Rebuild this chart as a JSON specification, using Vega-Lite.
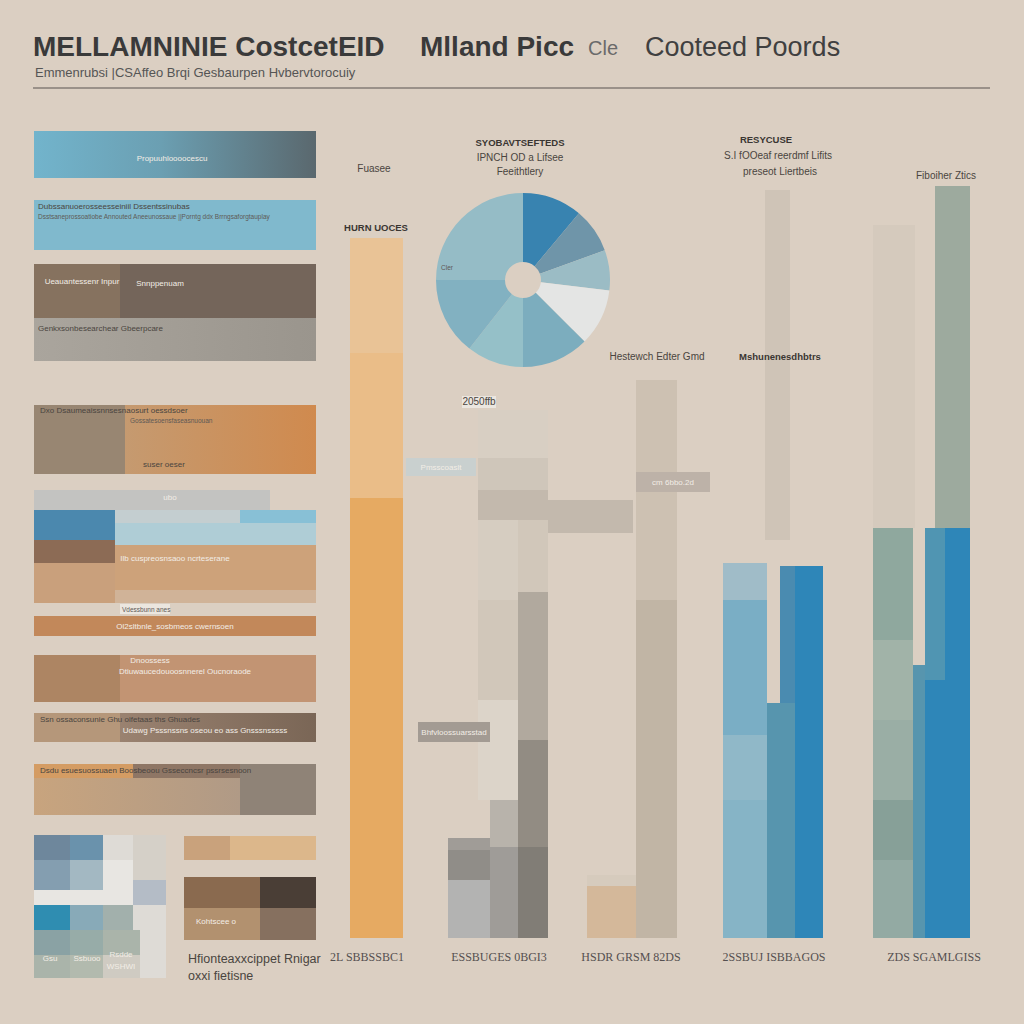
{
  "$schema": "https://vega.github.io/schema/vega-lite/v6.json",
  "width": 1024,
  "height": 1024,
  "autosize": {"type": "fit", "contains": "padding"},
  "padding": 0,
  "background": "#dbcfc2",
  "config": {"view": {"stroke": null}, "font": "Liberation Sans"},
  "datasets": {
    "blocks": [
      {"x0": 34, "x1": 316, "y0": 200, "y1": 250, "tone": "lightsky"},
      {"x0": 34, "x1": 120, "y0": 264, "y1": 318, "tone": "mocha1"},
      {"x0": 120, "x1": 316, "y0": 264, "y1": 318, "tone": "mocha2"},
      {"x0": 34, "x1": 125, "y0": 405, "y1": 474, "tone": "taupe"},
      {"x0": 34, "x1": 270, "y0": 490, "y1": 510, "tone": "silver"},
      {"x0": 34, "x1": 115, "y0": 510, "y1": 540, "tone": "steel"},
      {"x0": 115, "x1": 240, "y0": 510, "y1": 523, "tone": "pale"},
      {"x0": 240, "x1": 316, "y0": 510, "y1": 523, "tone": "ice"},
      {"x0": 115, "x1": 316, "y0": 523, "y1": 545, "tone": "mist"},
      {"x0": 34, "x1": 115, "y0": 540, "y1": 563, "tone": "cocoa"},
      {"x0": 115, "x1": 316, "y0": 545, "y1": 590, "tone": "sand"},
      {"x0": 34, "x1": 115, "y0": 563, "y1": 603, "tone": "tan"},
      {"x0": 115, "x1": 316, "y0": 590, "y1": 603, "tone": "biscuit"},
      {"x0": 34, "x1": 316, "y0": 616, "y1": 636, "tone": "rust"},
      {"x0": 34, "x1": 120, "y0": 655, "y1": 702, "tone": "caramel"},
      {"x0": 120, "x1": 316, "y0": 655, "y1": 702, "tone": "toffee"},
      {"x0": 34, "x1": 120, "y0": 713, "y1": 742, "tone": "khaki"},
      {"x0": 34, "x1": 133, "y0": 764, "y1": 778, "tone": "apricot"},
      {"x0": 133, "x1": 240, "y0": 764, "y1": 778, "tone": "walnut"},
      {"x0": 240, "x1": 316, "y0": 764, "y1": 815, "tone": "stone"},
      {"x0": 34, "x1": 70, "y0": 835, "y1": 860, "tone": "g1"},
      {"x0": 70, "x1": 103, "y0": 835, "y1": 860, "tone": "g2"},
      {"x0": 103, "x1": 133, "y0": 835, "y1": 860, "tone": "g3"},
      {"x0": 133, "x1": 166, "y0": 835, "y1": 880, "tone": "g4"},
      {"x0": 34, "x1": 70, "y0": 860, "y1": 890, "tone": "g5"},
      {"x0": 70, "x1": 103, "y0": 860, "y1": 890, "tone": "g6"},
      {"x0": 103, "x1": 133, "y0": 860, "y1": 905, "tone": "g7"},
      {"x0": 34, "x1": 103, "y0": 890, "y1": 905, "tone": "g7"},
      {"x0": 133, "x1": 166, "y0": 880, "y1": 905, "tone": "g8"},
      {"x0": 34, "x1": 70, "y0": 905, "y1": 930, "tone": "g9"},
      {"x0": 70, "x1": 103, "y0": 905, "y1": 930, "tone": "g10"},
      {"x0": 103, "x1": 133, "y0": 905, "y1": 930, "tone": "g11"},
      {"x0": 133, "x1": 166, "y0": 905, "y1": 930, "tone": "g3"},
      {"x0": 34, "x1": 70, "y0": 930, "y1": 955, "tone": "g12"},
      {"x0": 70, "x1": 103, "y0": 930, "y1": 955, "tone": "g13"},
      {"x0": 103, "x1": 140, "y0": 930, "y1": 955, "tone": "g14"},
      {"x0": 140, "x1": 166, "y0": 930, "y1": 978, "tone": "g3"},
      {"x0": 34, "x1": 70, "y0": 955, "y1": 978, "tone": "g14"},
      {"x0": 70, "x1": 103, "y0": 955, "y1": 978, "tone": "g15"},
      {"x0": 103, "x1": 140, "y0": 955, "y1": 978, "tone": "g16"},
      {"x0": 184, "x1": 230, "y0": 836, "y1": 860, "tone": "peach1"},
      {"x0": 230, "x1": 316, "y0": 836, "y1": 860, "tone": "peach2"},
      {"x0": 184, "x1": 260, "y0": 877, "y1": 908, "tone": "brown1"},
      {"x0": 260, "x1": 316, "y0": 877, "y1": 908, "tone": "brown2"},
      {"x0": 184, "x1": 260, "y0": 908, "y1": 940, "tone": "brown3"},
      {"x0": 260, "x1": 316, "y0": 908, "y1": 940, "tone": "brown4"},
      {"x0": 350, "x1": 403, "y0": 238, "y1": 353, "tone": "o1"},
      {"x0": 350, "x1": 403, "y0": 353, "y1": 498, "tone": "o2"},
      {"x0": 350, "x1": 403, "y0": 498, "y1": 938, "tone": "o3"},
      {"x0": 478, "x1": 548, "y0": 410, "y1": 458, "tone": "m0"},
      {"x0": 478, "x1": 548, "y0": 458, "y1": 490, "tone": "m1"},
      {"x0": 478, "x1": 548, "y0": 490, "y1": 520, "tone": "m2"},
      {"x0": 548, "x1": 633, "y0": 500, "y1": 533, "tone": "m2"},
      {"x0": 518, "x1": 548, "y0": 520, "y1": 592, "tone": "m3"},
      {"x0": 518, "x1": 548, "y0": 592, "y1": 740, "tone": "m4"},
      {"x0": 518, "x1": 548, "y0": 740, "y1": 847, "tone": "m5"},
      {"x0": 518, "x1": 548, "y0": 847, "y1": 938, "tone": "m6"},
      {"x0": 478, "x1": 518, "y0": 520, "y1": 600, "tone": "m7"},
      {"x0": 478, "x1": 518, "y0": 600, "y1": 700, "tone": "m3"},
      {"x0": 478, "x1": 518, "y0": 700, "y1": 800, "tone": "m8"},
      {"x0": 490, "x1": 518, "y0": 800, "y1": 847, "tone": "m9"},
      {"x0": 490, "x1": 518, "y0": 847, "y1": 938, "tone": "m10"},
      {"x0": 448, "x1": 490, "y0": 838, "y1": 850, "tone": "m11"},
      {"x0": 448, "x1": 490, "y0": 850, "y1": 880, "tone": "m12"},
      {"x0": 448, "x1": 490, "y0": 880, "y1": 938, "tone": "m13"},
      {"x0": 636, "x1": 677, "y0": 380, "y1": 600, "tone": "m15"},
      {"x0": 636, "x1": 677, "y0": 600, "y1": 938, "tone": "m16"},
      {"x0": 587, "x1": 636, "y0": 875, "y1": 886, "tone": "m18"},
      {"x0": 587, "x1": 636, "y0": 886, "y1": 938, "tone": "m19"},
      {"x0": 406, "x1": 476, "y0": 458, "y1": 476, "tone": "boxblue"},
      {"x0": 462, "x1": 496, "y0": 396, "y1": 408, "tone": "boxwhite"},
      {"x0": 120, "x1": 170, "y0": 604, "y1": 614, "tone": "boxwhite"},
      {"x0": 418, "x1": 490, "y0": 722, "y1": 742, "tone": "m14"},
      {"x0": 636, "x1": 710, "y0": 472, "y1": 492, "tone": "m17"},
      {"x0": 765, "x1": 790, "y0": 190, "y1": 540, "tone": "r0"},
      {"x0": 873, "x1": 915, "y0": 225, "y1": 528, "tone": "r1"},
      {"x0": 935, "x1": 970, "y0": 186, "y1": 528, "tone": "sage"},
      {"x0": 723, "x1": 767, "y0": 563, "y1": 600, "tone": "b1"},
      {"x0": 723, "x1": 767, "y0": 600, "y1": 735, "tone": "b2"},
      {"x0": 723, "x1": 767, "y0": 735, "y1": 800, "tone": "b3"},
      {"x0": 723, "x1": 767, "y0": 800, "y1": 938, "tone": "b4"},
      {"x0": 767, "x1": 795, "y0": 703, "y1": 938, "tone": "b5"},
      {"x0": 780, "x1": 795, "y0": 566, "y1": 703, "tone": "b6"},
      {"x0": 795, "x1": 823, "y0": 566, "y1": 938, "tone": "b7"},
      {"x0": 873, "x1": 913, "y0": 528, "y1": 640, "tone": "s1"},
      {"x0": 873, "x1": 913, "y0": 640, "y1": 720, "tone": "s2"},
      {"x0": 873, "x1": 913, "y0": 720, "y1": 800, "tone": "s3"},
      {"x0": 873, "x1": 913, "y0": 800, "y1": 860, "tone": "s4"},
      {"x0": 873, "x1": 913, "y0": 860, "y1": 938, "tone": "s5"},
      {"x0": 913, "x1": 925, "y0": 665, "y1": 938, "tone": "b5"},
      {"x0": 925, "x1": 945, "y0": 528, "y1": 680, "tone": "b8"},
      {"x0": 945, "x1": 970, "y0": 528, "y1": 680, "tone": "b7"},
      {"x0": 925, "x1": 970, "y0": 680, "y1": 938, "tone": "b7"}
    ],
    "gradA1": [{"x0": 34, "x1": 316, "y0": 131, "y1": 178}],
    "gradA3": [{"x0": 34, "x1": 316, "y0": 318, "y1": 361}],
    "gradA4": [{"x0": 125, "x1": 316, "y0": 405, "y1": 474}],
    "gradA8": [{"x0": 120, "x1": 316, "y0": 713, "y1": 742}],
    "gradA9": [{"x0": 34, "x1": 240, "y0": 778, "y1": 815}],
    "pie": [
      {"cx": 523, "cy": 280, "share": 40, "tone": "p1", "order": 1},
      {"cx": 523, "cy": 280, "share": 30, "tone": "p2", "order": 2},
      {"cx": 523, "cy": 280, "share": 27, "tone": "p3", "order": 3},
      {"cx": 523, "cy": 280, "share": 38, "tone": "p4", "order": 4},
      {"cx": 523, "cy": 280, "share": 45, "tone": "p5", "order": 5},
      {"cx": 523, "cy": 280, "share": 38, "tone": "p6", "order": 6},
      {"cx": 523, "cy": 280, "share": 52, "tone": "p7", "order": 7},
      {"cx": 523, "cy": 280, "share": 90, "tone": "p8", "order": 8}
    ],
    "rule": [{"x0": 33, "x1": 990, "y": 88}],
    "titleBold": [
      {"x": 33, "y": 56, "text": "MELLAMNINIE CostcetEID"},
      {"x": 420, "y": 56, "text": "Mlland Picc"}
    ],
    "titleRegular": [
      {"x": 645, "y": 56, "text": "Cooteed Poords"}
    ],
    "titleSmall": [
      {"x": 588, "y": 55, "text": "Cle"}
    ],
    "subtitle": [
      {"x": 35, "y": 77, "text": "Emmenrubsi |CSAffeo Brqi Gesbaurpen Hvbervtorocuiy"}
    ],
    "notesLeft": [
      {"x": 38, "y": 209, "text": "Dubssanuoerosseesseiniil  Dssentssinubas"},
      {"x": 38, "y": 331, "text": "Genkxsonbesearchear Gbeerpcare"},
      {"x": 40, "y": 413, "text": "Dxo Dsaumeaissnnsesnaosurt oessdsoer"},
      {"x": 143, "y": 467, "text": "suser oeser"},
      {"x": 40, "y": 722, "text": "Ssn ossaconsunie Ghu oifetaas ths Ghuades"},
      {"x": 40, "y": 773, "text": "Dsdu esuesuossuaen Boosbeoou Gsseccncsr pssrsesnoon"}
    ],
    "notesTiny": [
      {"x": 38, "y": 219, "text": "Dsstsaneprossoatiobe Annouted Aneeunossaue ||Porntg ddx Brrngsaforgtauplay"},
      {"x": 130, "y": 423, "text": "Gossatesoensfaseasnuouan"},
      {"x": 441, "y": 270, "text": "Cler"},
      {"x": 122, "y": 612, "text": "Vdessbunn anes"}
    ],
    "notesWhite": [
      {"x": 172, "y": 161, "text": "Propuuhloooocescu"},
      {"x": 82, "y": 284, "text": "Ueauantessenr Inpur"},
      {"x": 160, "y": 286, "text": "Snnppenuam"},
      {"x": 170, "y": 500, "text": "ubo"},
      {"x": 175, "y": 561, "text": "Ilb cuspreosnsaoo ncrteserane"},
      {"x": 175, "y": 629, "text": "Ol2sltbnle_sosbmeos cwernsoen"},
      {"x": 150, "y": 663, "text": "Dnoossess"},
      {"x": 185, "y": 674, "text": "Dtiuwaucedouoosnnerel Oucnoraode"},
      {"x": 205, "y": 733, "text": "Udawg Psssnssns oseou eo ass Gnsssnsssss"},
      {"x": 216, "y": 924, "text": "Kohtscee o"},
      {"x": 50, "y": 961, "text": "Gsu"},
      {"x": 87, "y": 961, "text": "Ssbuoo"},
      {"x": 121, "y": 957, "text": "Rsdde"},
      {"x": 121, "y": 969, "text": "WSHWI"},
      {"x": 441, "y": 470, "text": "Pmsscoaslt"},
      {"x": 454, "y": 735, "text": "Bhfvloossuarsstad"},
      {"x": 673, "y": 485, "text": "cm 6bbo.2d"}
    ],
    "notesCenter": [
      {"x": 374, "y": 172, "text": "Fuasee"},
      {"x": 520, "y": 161, "text": "IPNCH OD a Lifsee"},
      {"x": 520, "y": 175, "text": "Feeithtlery"},
      {"x": 657, "y": 360, "text": "Hestewch Edter Gmd"},
      {"x": 778, "y": 159, "text": "S.I fOOeaf reerdmf Lifits"},
      {"x": 780, "y": 175, "text": "preseot Liertbeis"},
      {"x": 946, "y": 179, "text": "Fiboiher Ztics"},
      {"x": 479, "y": 405, "text": "2050ffb"}
    ],
    "notesBoldCenter": [
      {"x": 780, "y": 360, "text": "Mshunenesdhbtrs"},
      {"x": 376, "y": 231, "text": "HURN UOCES"},
      {"x": 520, "y": 146, "text": "SYOBAVTSEFTEDS"},
      {"x": 766, "y": 143, "text": "RESYCUSE"}
    ],
    "bottomNote": [
      {"x": 188, "y": 963, "text": "Hfionteaxxcippet Rnigar"},
      {"x": 188, "y": 980, "text": "oxxi fietisne"}
    ],
    "axisLabels": [
      {"x": 367, "y": 961, "text": "2L SBBSSBC1"},
      {"x": 499, "y": 961, "text": "ESSBUGES 0BGI3"},
      {"x": 631, "y": 961, "text": "HSDR GRSM 82DS"},
      {"x": 774, "y": 961, "text": "2SSBUJ ISBBAGOS"},
      {"x": 934, "y": 961, "text": "ZDS SGAMLGISS"}
    ]
  },
  "encoding": {
    "x": {"field": "x0", "type": "quantitative", "scale": {"domain": [0, 1024], "nice": false, "zero": false}, "axis": null},
    "y": {"field": "y0", "type": "quantitative", "scale": {"domain": [0, 1024], "nice": false, "zero": false, "reverse": true}, "axis": null}
  },
  "layer": [
    {
      "data": {"name": "blocks"},
      "mark": {"type": "rect"},
      "encoding": {
        "x2": {"field": "x1"},
        "y2": {"field": "y1"},
        "color": {
          "field": "tone", "type": "nominal", "legend": null,
          "scale": {
            "domain": ["lightsky","mocha1","mocha2","taupe","silver","steel","pale","ice","mist","cocoa","sand","tan","biscuit","rust","caramel","toffee","khaki","apricot","walnut","stone","g1","g2","g3","g4","g5","g6","g7","g8","g9","g10","g11","g12","g13","g14","g15","g16","peach1","peach2","brown1","brown2","brown3","brown4","o1","o2","o3","m0","m1","m2","m3","m4","m5","m6","m7","m8","m9","m10","m11","m12","m13","m14","m15","m16","m17","m18","m19","boxblue","boxwhite","r0","r1","sage","b1","b2","b3","b4","b5","b6","b7","b8","s1","s2","s3","s4","s5","p1","p2","p3","p4","p5","p6","p7","p8"],
            "range": ["#80b9cd","#86725f","#74655a","#988672","#c3c3c1","#4b88ae","#c4ced0","#88c0d6","#afcdd6","#8c6b55","#cda27a","#c9a07c","#d0b398","#c2885a","#ad8563","#c29473","#b5977a","#d49c63","#8e7665","#8f8377","#6e879c","#6a92ac","#dedbd6","#d5d0c8","#849eb0","#a3b8c2","#e8e6e2","#b4bcc6","#2f8db1","#88aab8","#a2b0ac","#8aa2a4","#97aca8","#aab4aa","#b2baae","#cfcbc2","#c9a27c","#dcb78b","#8a6a4f","#4a3e36","#b2916f","#86705f","#e9c396","#eabd88","#e6aa62","#d8cfc3","#cfc6ba","#c3b9ad","#d1c7ba","#b1a99e","#928c83","#817d76","#d6cdc1","#dcd4c9","#b8b3ab","#9f9c98","#a09c97","#908d88","#b3b3b2","#a39b93","#cdc1b2","#c1b5a5","#bdb2a8","#d6cbbd","#d4b89a","#c9d0cf","#ebe6df","#cfc4b7","#d5cabd","#9daa9e","#a0bcc8","#7aaec5","#90b8c8","#86b4c6","#5795ae","#4a8bb0","#2e86b8","#5095b2","#8fa89e","#a1b3a8","#9aaea5","#87a098","#93aaa3","#3883b0","#6f95a9","#9bbcc5","#e4e5e4","#7cadbe","#95c0c8","#82b1c1","#95bcc6"]
          }
        }
      }
    },
    {
      "data": {"name": "gradA1"},
      "mark": {"type": "rect", "color": {"gradient": "linear", "x1": 0, "x2": 1, "y1": 0, "y2": 0, "stops": [{"offset": 0, "color": "#72b4cc"}, {"offset": 0.45, "color": "#6b9fb2"}, {"offset": 1, "color": "#5a686e"}]}},
      "encoding": {"x2": {"field": "x1"}, "y2": {"field": "y1"}}
    },
    {
      "data": {"name": "gradA3"},
      "mark": {"type": "rect", "color": {"gradient": "linear", "x1": 0, "x2": 1, "y1": 0, "y2": 0, "stops": [{"offset": 0, "color": "#aaa59d"}, {"offset": 1, "color": "#9a958d"}]}},
      "encoding": {"x2": {"field": "x1"}, "y2": {"field": "y1"}}
    },
    {
      "data": {"name": "gradA4"},
      "mark": {"type": "rect", "color": {"gradient": "linear", "x1": 0, "x2": 1, "y1": 0, "y2": 0, "stops": [{"offset": 0, "color": "#c59a70"}, {"offset": 1, "color": "#d08a4e"}]}},
      "encoding": {"x2": {"field": "x1"}, "y2": {"field": "y1"}}
    },
    {
      "data": {"name": "gradA8"},
      "mark": {"type": "rect", "color": {"gradient": "linear", "x1": 0, "x2": 1, "y1": 0, "y2": 0, "stops": [{"offset": 0, "color": "#9a8270"}, {"offset": 1, "color": "#7a6656"}]}},
      "encoding": {"x2": {"field": "x1"}, "y2": {"field": "y1"}}
    },
    {
      "data": {"name": "gradA9"},
      "mark": {"type": "rect", "color": {"gradient": "linear", "x1": 0, "x2": 1, "y1": 0, "y2": 0, "stops": [{"offset": 0, "color": "#c8a47e"}, {"offset": 1, "color": "#b09a86"}]}},
      "encoding": {"x2": {"field": "x1"}, "y2": {"field": "y1"}}
    },
    {
      "data": {"name": "pie"},
      "mark": {"type": "arc", "outerRadius": 87, "innerRadius": 18},
      "encoding": {
        "x": {"field": "cx", "type": "quantitative", "stack": null},
        "y": {"field": "cy", "type": "quantitative", "stack": null},
        "theta": {"field": "share", "type": "quantitative", "stack": "zero"},
        "order": {"field": "order", "type": "quantitative"},
        "color": {"field": "tone", "type": "nominal", "legend": null}
      }
    },
    {
      "data": {"name": "rule"},
      "mark": {"type": "rule", "color": "#5a5450", "strokeWidth": 1.2},
      "encoding": {"x2": {"field": "x1"}, "y": {"field": "y", "type": "quantitative"}}
    },
    {
      "data": {"name": "titleBold"},
      "mark": {"type": "text", "align": "left", "baseline": "alphabetic", "fontSize": 28, "fontWeight": "bold", "color": "#3a3a3a", "font": "Liberation Sans"},
      "encoding": {"x": {"field": "x", "type": "quantitative"}, "y": {"field": "y", "type": "quantitative"}, "text": {"field": "text"}}
    },
    {
      "data": {"name": "titleRegular"},
      "mark": {"type": "text", "align": "left", "baseline": "alphabetic", "fontSize": 27, "color": "#404040", "font": "Liberation Sans"},
      "encoding": {"x": {"field": "x", "type": "quantitative"}, "y": {"field": "y", "type": "quantitative"}, "text": {"field": "text"}}
    },
    {
      "data": {"name": "titleSmall"},
      "mark": {"type": "text", "align": "left", "baseline": "alphabetic", "fontSize": 20, "color": "#6a6a6a", "font": "Liberation Sans"},
      "encoding": {"x": {"field": "x", "type": "quantitative"}, "y": {"field": "y", "type": "quantitative"}, "text": {"field": "text"}}
    },
    {
      "data": {"name": "subtitle"},
      "mark": {"type": "text", "align": "left", "baseline": "alphabetic", "fontSize": 13, "color": "#555555", "font": "Liberation Sans"},
      "encoding": {"x": {"field": "x", "type": "quantitative"}, "y": {"field": "y", "type": "quantitative"}, "text": {"field": "text"}}
    },
    {
      "data": {"name": "notesLeft"},
      "mark": {"type": "text", "align": "left", "baseline": "alphabetic", "fontSize": 8, "color": "#4a4540"},
      "encoding": {"x": {"field": "x", "type": "quantitative"}, "y": {"field": "y", "type": "quantitative"}, "text": {"field": "text"}}
    },
    {
      "data": {"name": "notesTiny"},
      "mark": {"type": "text", "align": "left", "baseline": "alphabetic", "fontSize": 6.5, "color": "#5e5956"},
      "encoding": {"x": {"field": "x", "type": "quantitative"}, "y": {"field": "y", "type": "quantitative"}, "text": {"field": "text"}}
    },
    {
      "data": {"name": "notesWhite"},
      "mark": {"type": "text", "align": "center", "baseline": "alphabetic", "fontSize": 8, "color": "#f2ede6"},
      "encoding": {"x": {"field": "x", "type": "quantitative"}, "y": {"field": "y", "type": "quantitative"}, "text": {"field": "text"}}
    },
    {
      "data": {"name": "notesCenter"},
      "mark": {"type": "text", "align": "center", "baseline": "alphabetic", "fontSize": 10, "color": "#4a4540"},
      "encoding": {"x": {"field": "x", "type": "quantitative"}, "y": {"field": "y", "type": "quantitative"}, "text": {"field": "text"}}
    },
    {
      "data": {"name": "notesBoldCenter"},
      "mark": {"type": "text", "align": "center", "baseline": "alphabetic", "fontSize": 9.5, "fontWeight": "bold", "color": "#3a3632"},
      "encoding": {"x": {"field": "x", "type": "quantitative"}, "y": {"field": "y", "type": "quantitative"}, "text": {"field": "text"}}
    },
    {
      "data": {"name": "bottomNote"},
      "mark": {"type": "text", "align": "left", "baseline": "alphabetic", "fontSize": 12.5, "color": "#4a4540"},
      "encoding": {"x": {"field": "x", "type": "quantitative"}, "y": {"field": "y", "type": "quantitative"}, "text": {"field": "text"}}
    },
    {
      "data": {"name": "axisLabels"},
      "mark": {"type": "text", "align": "center", "baseline": "alphabetic", "fontSize": 12, "color": "#555050", "font": "Liberation Serif"},
      "encoding": {"x": {"field": "x", "type": "quantitative"}, "y": {"field": "y", "type": "quantitative"}, "text": {"field": "text"}}
    }
  ]
}
